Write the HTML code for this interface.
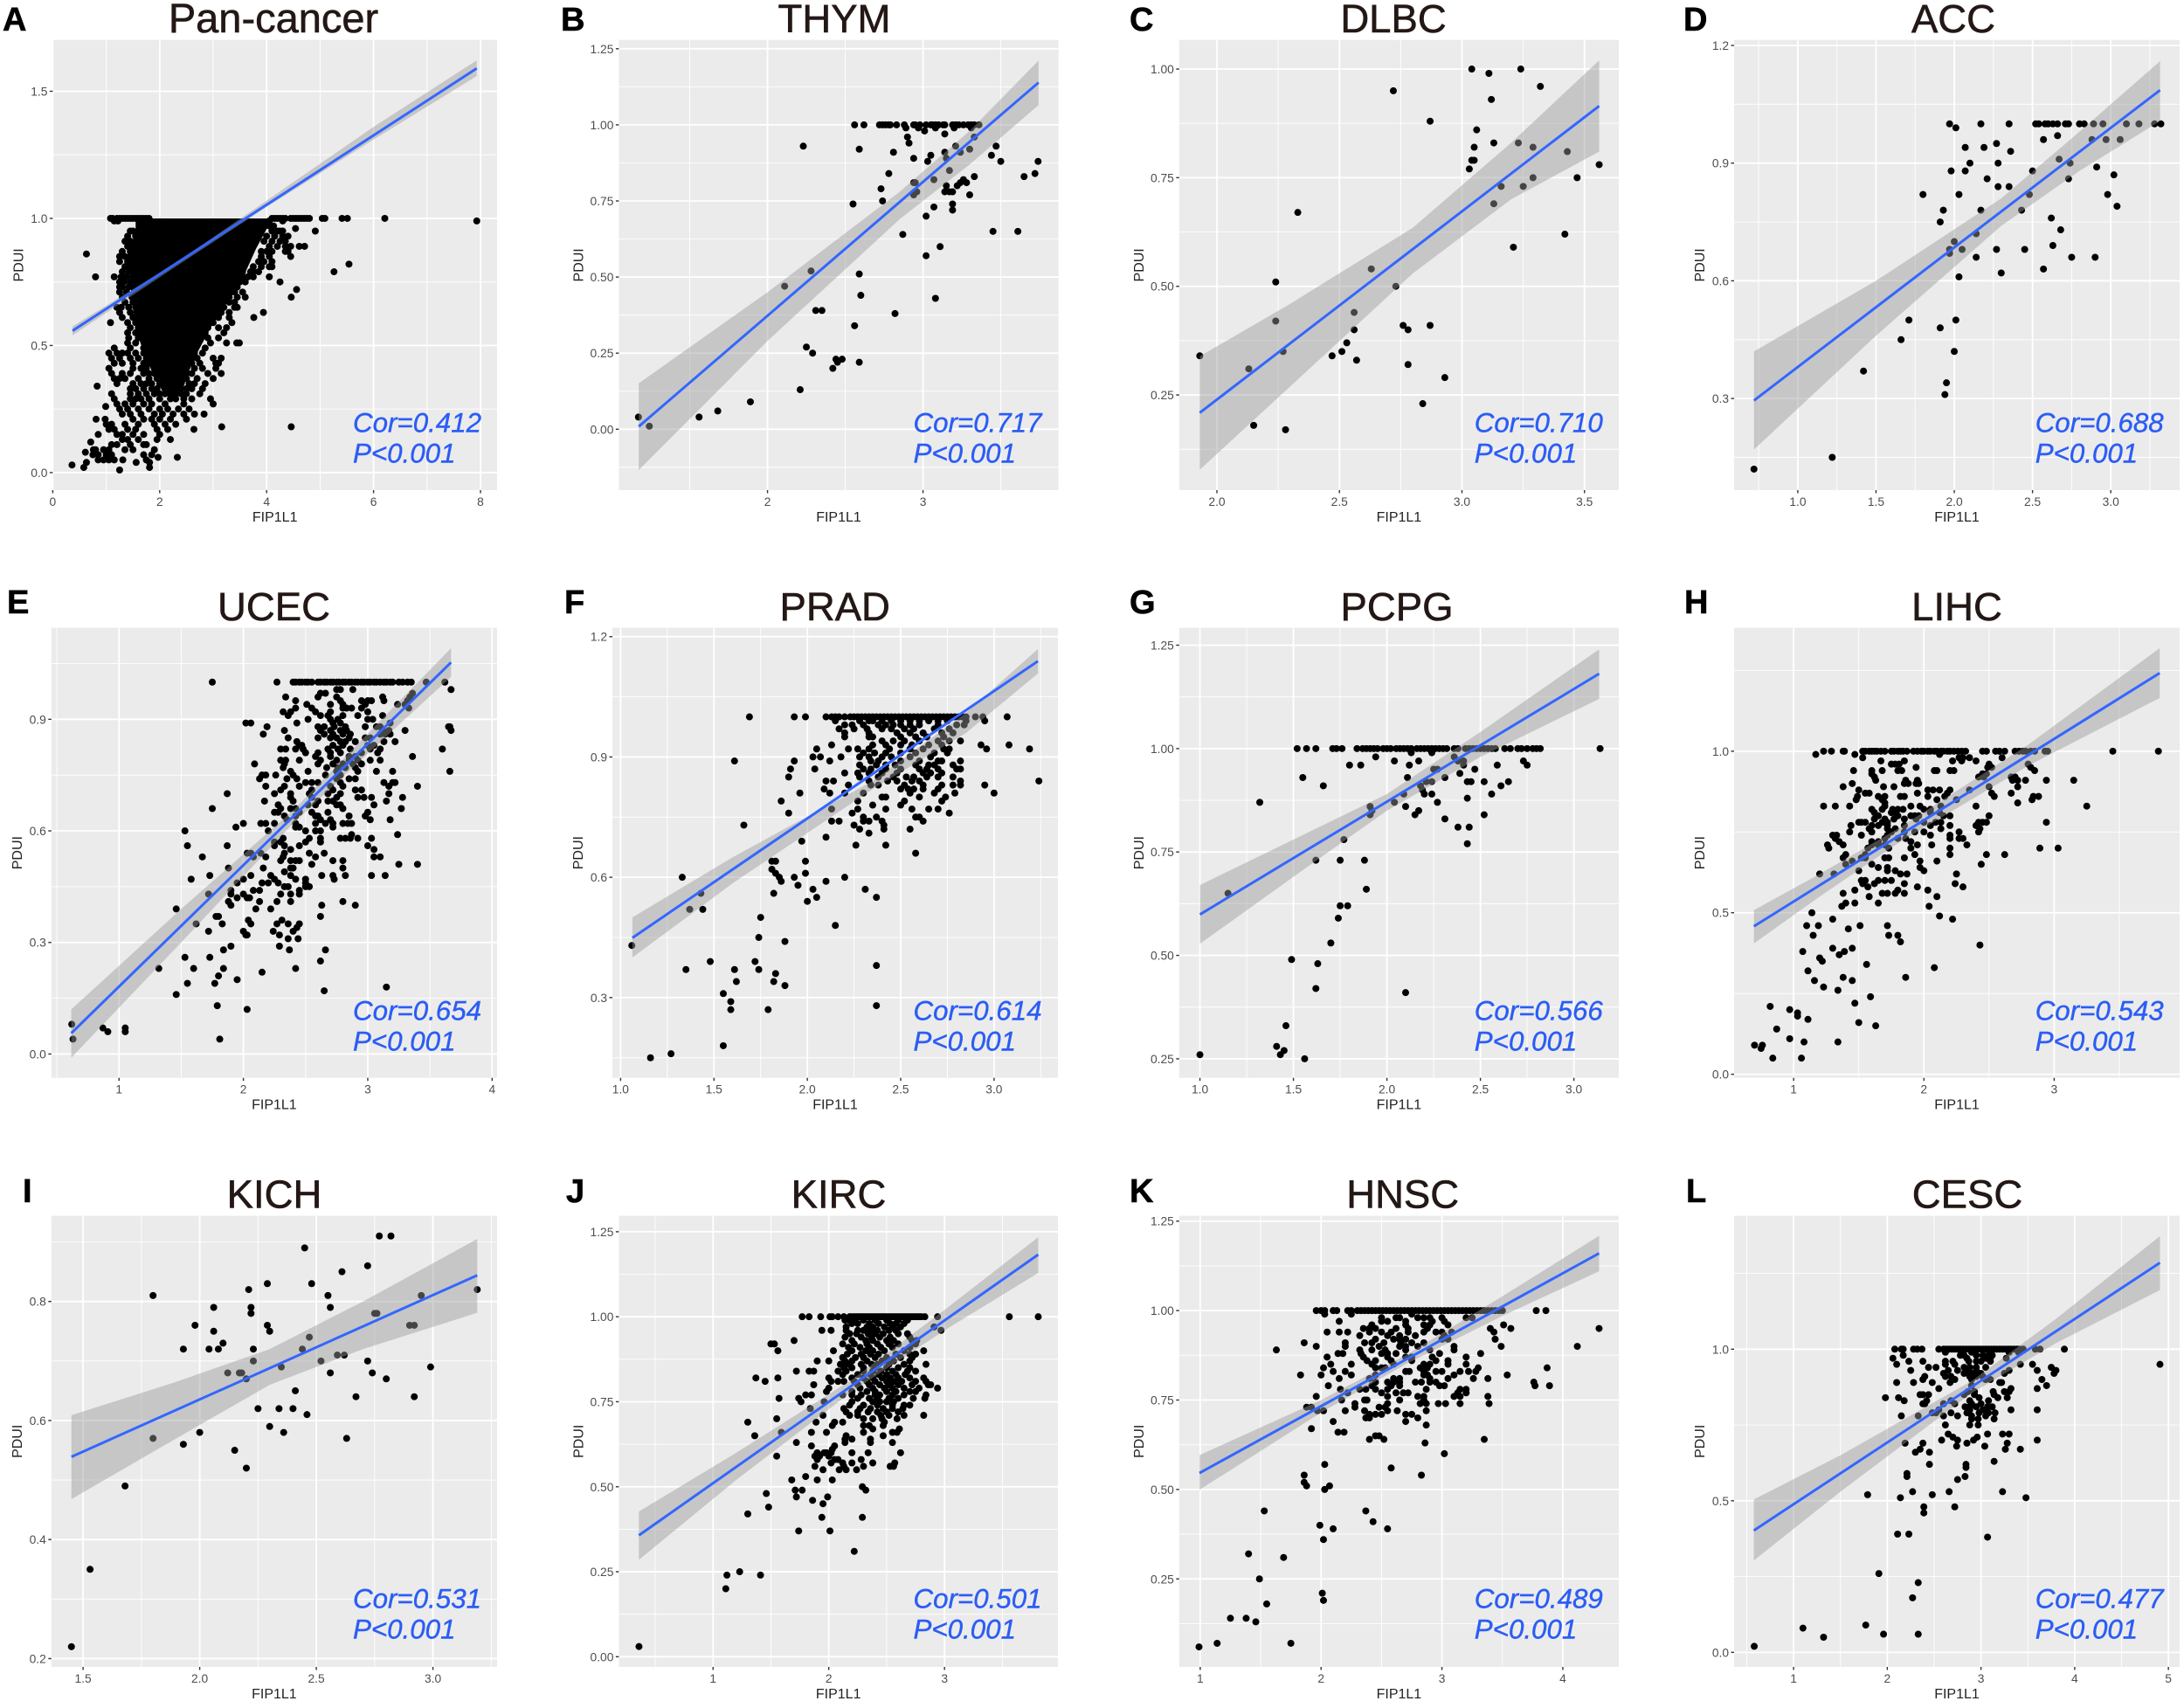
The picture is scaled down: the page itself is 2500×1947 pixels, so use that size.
<!DOCTYPE html>
<html lang="en">
<head>
<meta charset="utf-8">
<title>FIP1L1 vs PDUI correlation panels</title>
<style>
html,body{margin:0;padding:0;background:#fff;width:2500px;height:1947px;overflow:hidden}
#figure{position:absolute;left:0;top:0;display:block}
text{font-family:"Liberation Sans",Arial,sans-serif}
</style>
</head>
<body>
<svg id="figure" width="2500" height="1947" viewBox="0 0 2500 1947" xmlns="http://www.w3.org/2000/svg"></svg>
<script>
// ---------- chart values ----------
const panelLetters = ['A','B','C','D','E','F','G','H','I','J','K','L'];
const panelTitles = ['Pan-cancer','THYM','DLBC','ACC','UCEC','PRAD','PCPG','LIHC','KICH','KIRC','HNSC','CESC'];
const corValues = ['0.412','0.717','0.710','0.688','0.654','0.614','0.566','0.543','0.531','0.501','0.489','0.477'];
const xTickLabels = [
 ['0','2','4','6','8'],['2','3'],['2.0','2.5','3.0','3.5'],['1.0','1.5','2.0','2.5','3.0'],
 ['1','2','3','4'],['1.0','1.5','2.0','2.5','3.0'],['1.0','1.5','2.0','2.5','3.0'],['1','2','3'],
 ['1.5','2.0','2.5','3.0'],['1','2','3'],['1','2','3','4'],['1','2','3','4','5']];
const yTickLabels = [
 ['0.0','0.5','1.0','1.5'],['0.00','0.25','0.50','0.75','1.00','1.25'],['0.25','0.50','0.75','1.00'],['0.3','0.6','0.9','1.2'],
 ['0.0','0.3','0.6','0.9'],['0.3','0.6','0.9','1.2'],['0.25','0.50','0.75','1.00','1.25'],['0.0','0.5','1.0'],
 ['0.2','0.4','0.6','0.8'],['0.00','0.25','0.50','0.75','1.00','1.25'],['0.25','0.50','0.75','1.00','1.25'],['0.0','0.5','1.0']];
const xDomains = [[0,8.31],[1.044,3.871],[1.846,3.64],[.593,3.44],[.456,4.04],[.956,3.342],[.889,3.24],[.543,3.963],[1.364,3.275],[.186,3.98],[.826,4.463],[.365,5.12]];
const yDomains = [[-.069,1.702],[-.2,1.279],[.031,1.067],[.0665,1.214],[-.064,1.146],[.1,1.222],[.204,1.292],[-.011,1.382],[.186,.944],[-.03,1.297],[.004,1.265],[-.048,1.44]];
// Fitted line: x0, y0, x1, y1
const fitLines = [[.37,.558,7.93,1.59],[1.172,.009,3.743,1.139],[1.93,.209,3.56,.915],[.72,.295,3.315,1.086],[.616,.056,3.67,1.053],[1.063,.449,3.235,1.139],[1.0,.599,3.135,1.181],[.695,.458,3.81,1.242],[1.45,.539,3.19,.844],[.359,.357,3.81,1.183],[.994,.546,4.3,1.16],[.575,.402,4.91,1.285]];
// Confidence ribbon: each entry is x, lower, upper
const ribbons = [
 [[.37,.54,.575],[2.3,.81,.825],[4,1.045,1.07],[6,1.31,1.36],[7.93,1.56,1.622]],
 [[1.172,-.134,.151],[2,.29,.45],[2.85,.69,.78],[3.3,.87,.98],[3.743,1.065,1.211]],
 [[1.93,.078,.339],[2.3,.27,.46],[2.8,.53,.635],[3.2,.70,.83],[3.56,.81,1.02]],
 [[.72,.17,.42],[1.5,.46,.60],[2.3,.74,.81],[2.8,.88,.98],[3.315,1.007,1.16]],
 [[.616,-.01,.12],[1.5,.30,.39],[2.4,.62,.655],[3.2,.87,.93],[3.67,1.014,1.091]],
 [[1.063,.40,.50],[1.6,.585,.65],[2.35,.82,.84],[2.85,.96,1.01],[3.235,1.108,1.169]],
 [[1.0,.528,.67],[1.5,.69,.78],[2.0,.85,.89],[2.5,.98,1.04],[3.135,1.12,1.24]],
 [[.695,.405,.508],[1.2,.55,.62],[1.8,.715,.76],[2.8,.955,1.02],[3.81,1.165,1.319]],
 [[1.45,.468,.609],[1.9,.57,.665],[2.3,.66,.72],[2.7,.72,.80],[3.19,.781,.905]],
 [[.359,.285,.427],[1.2,.52,.60],[2.2,.78,.815],[3,.96,1.02],[3.81,1.129,1.234]],
 [[.994,.499,.596],[2,.715,.75],[2.7,.85,.875],[3.5,.985,1.04],[4.3,1.11,1.209]],
 [[.575,.303,.504],[1.5,.53,.65],[2.9,.855,.895],[3.8,1.02,1.10],[4.91,1.195,1.373]]];

// Points are grouped by PDUI level: [pdui, fip1l1, fip1l1, ...]
const panDenseLevels = [1,.95,.88,.74,.65,.57,.47,.40,.34,.30];
const panDenseLow = [1.55,1.55,1.5,1.45,1.5,1.55,1.7,1.85,2.0,2.1];
const panDenseHigh = [4.1,3.98,3.8,3.5,3.2,2.95,2.7,2.55,2.45,2.35];
const panPoints = [
[1,1.08,1.12,1.2,1.25,1.3,1.35,1.4,1.45,1.5,1.55,1.6,1.65,1.7,1.75,1.8,4.1,4.15,4.2,4.25,4.3,4.35,4.45,4.5,4.55,4.6,4.65,4.7,4.75,4.8,5.04,5.09,5.41,5.51,6.21],
[.99,1.15,1.22,1.75,1.8,4.05,4.3,7.93],[.97,1.65,1.72,4.13,4.05],[.96,4.54],[.95,1.45,1.5,1.6,4.25,4.1,4.2,4.3,4.91],[.93,1.55,1.4,4.3,4.15,4,4.4],[.91,1.45,1.35,1.55,4.35,4.25,4.1,3.95],
[.89,1.4,1.5,1.6,4.2,4.05,4.35,4.45,4.61,4.71],[.87,1.3,1.45,1.55,4.1,4,3.9,4.35,4.4],[.86,.63],[.85,1.25,1.35,1.45,1.6,4.05,3.9,4.45],[.83,1.25,1.4,1.5,3.85,3.95,4.1],[.82,5.54],[.81,1.35,1.45,1.55,3.75,3.9,4.1,4.05],
[.79,1.3,1.42,1.5,3.7,3.55,3.85,3.75,5.26],[.77,.8,1.15,1.28,1.38,1.5,3.55,3.65,3.75,4.05],[.75,1.25,1.33,1.45,3.5,3.6,4.25],[.73,1.25,1.3,1.42,3.45,3.4],[.72,4.56],[.71,1.25,1.38,3.4,3.55],[.69,1.3,1.48,3.3,3.45,3.6,4.46],
[.67,1.35,1.5,3.3,3.4],[.65,1.2,1.28,1.42,1.55,3.2,3.4,3.45],[.63,1.25,1.45,3.15,3.3,3.94],[.61,1.3,1.5,1.6,3.1,3.3,3.76],[.59,1.08,1.4,1.55,3,3.35],[.57,1.45,1.6,2.9,3.1,3.25],[.55,1.4,1.55,2.85,3.2],[.53,1.42,1.6,2.9,3.1],
[.51,1.4,1.55,2.7,2.95,3.25,3.44,3.49],[.49,1.15,1.45,1.7,2.65,2.85],[.47,1.05,1.2,1.3,1.4,1.55,1.7,2.65,2.8],[.45,1.1,1.25,1.45,1.6,1.75,2.6,2.7,3,3.15],[.43,1.15,1.3,1.5,1.7,1.8,2.6,2.75,3.05,3.1],[.41,1.05,1.5,1.65,1.75,2.65,2.8,3.05],
[.39,1.1,1.3,1.45,1.7,1.8,1.9,2.5,2.6,2.9,3.15],[.37,1.15,1.25,1.35,1.6,1.8,1.95,2.05,2.25,2.5,2.7,3],[.35,1.2,1.5,1.65,1.75,1.85,2,2.4,2.55,2.65,2.85],[.34,.83],[.33,1.45,1.55,1.7,1.85,1.95,2.15,2.4,2.5,2.6,2.8],[.31,1.1,1.45,1.6,1.75,1.9,2,2.1,2.25,2.4,2.5,2.75],[.29,1.15,1.45,1.55,1.65,1.8,2,2.2,2.3,2.45,2.6,2.95],
[.27,1.2,1.35,1.5,1.7,1.85,2.1,2.45,3],[.26,.99],[.25,1.25,1.4,1.6,1.8,2,2.15,2.35,2.55],[.23,1.3,1.45,1.65,1.9,2.05,2.25,2.45,2.65,2.83],[.21,.81,.98,1.5,1.7,1.85,2,2.2,2.5],[.19,1,1.1,1.35,1.6,1.9,2.1,2.3],[.18,3.16,4.46],[.17,1.05,1.15,1.4,1.55,1.95,2.15,2.64],
[.15,.85,1.2,1.3,1.5,1.7,2],[.13,1.3,1.4,1.6,1.95,2.2],[.12,.71],[.11,1.1,1.2,1.45,1.7,1.75],[.09,.76,.8,.95,1.05,1.35,1.5,1.9],[.08,.61],[.07,.75,.85,1,1.1,1.7,1.85],[.06,2.33,1.97],[.05,.85,.95,1.05,1.15,1.31,1.75],[.04,.63,1.56,1.81],[.03,.36],[.02,.58,1.81],[.01,1.25]];
const thymPoints = [
[1,2.56,2.62,2.72,2.74,2.76,2.78,2.79,2.83,2.88,2.94,2.95,2.98,3.02,3.05,3.06,3.08,3.1,3.13,3.14,3.19,3.21,3.23,3.26,3.29,3.31,3.33,3.36],
[.99,2.89,2.97,3.08,3.2,3.31],[.98,3.01],[.97,3.14],[.96,2.9,3.33],[.94,2.91],[.93,2.23,3.21,3.47],[.92,2.59,3.3],[.91,2.81,3.14,3.24],[.9,3.05,3.44],[.89,2.94,3.15],[.88,3.03,3.5,3.74],[.85,3.17],[.84,2.78,3.72],[.83,3.33,3.65],
[.82,3.07,3.26],[.81,2.94,2.95,3.24,3.28],[.8,3.22,3.15],[.79,2.73],[.78,3.14,3.17,3.19,2.96],[.77,2.94,3.3],[.75,2.74],[.74,2.55,3.19],[.73,3.07],[.72,3.19],[.7,3.02],[.65,3.45,3.61],[.64,2.87],[.6,3.11],[.57,3.02],[.52,2.28],[.51,2.59],[.47,2.11],[.44,2.6],[.43,3.08],[.39,2.31,2.35],[.38,2.82],[.34,2.56],[.27,2.25],[.25,2.29],[.23,2.44,2.48],[.22,2.45,2.59],[.2,2.42],[.13,2.21],[.09,1.89],[.06,1.68],[.04,1.56,1.17],[.01,1.24]];
const dlbcPoints = [
[1,3.04,3.24],[.99,3.11],[.96,3.32],[.95,2.72],[.93,3.12],[.88,2.87],[.86,3.06],[.83,3.13,3.23],[.82,3.05,3.29],[.81,3.43],[.79,3.04,3.05],[.78,3.56],[.77,3.03],[.75,3.29,3.47],[.73,3.16,3.25],[.69,3.13],[.67,2.33],[.62,3.42],[.59,3.21],[.54,2.63],[.51,2.24],[.5,2.73],[.44,2.56],[.42,2.24],[.41,2.76,2.87],[.4,2.56,2.78],[.37,2.53],[.35,2.27,2.51],[.34,1.93,2.47],[.33,2.57],[.32,2.78],[.31,2.13],[.29,2.93],[.23,2.84],[.18,2.15],[.17,2.28]];
const accPoints = [
[1,1.97,2.17,2.35,2.52,2.54,2.58,2.6,2.63,2.66,2.71,2.73,2.8,2.83,2.89,2.95,3.1,3.18,3.28,3.32],[.99,2.01],[.97,2.66],[.96,2.57,2.88,2.97,3.06],[.95,2.27],[.94,2.07,2.19],[.93,2.36],[.91,2.67],[.9,2.1,2.28,2.74],[.89,2.91],[.88,1.98,2.07,2.5],[.87,3.02],[.86,2.21,2.73],[.84,2.28,2.35],[.82,1.8,2.03,2.48,2.98],[.79,3.04],[.78,1.93,2.17,2.43],[.76,2.62],[.75,1.91],[.73,2.68],[.72,2.14],[.7,2],[.69,2.63],[.68,1.97,2.05,2.27,2.45],[.67,1.97],[.66,2.14,2.75,2.9],[.63,2.57],[.62,2.3],[.61,2.03],[.5,1.71,2.01],[.48,1.91],[.45,1.66],[.42,2],[.37,1.42],[.34,1.95],[.31,1.94],[.15,1.22],[.12,.72]];
const ucecPoints = [
[1,1.75,2.27,2.4,2.42,2.45,2.47,2.5,2.52,2.55,2.6,2.62,2.65,2.67,2.7,2.72,2.75,2.77,2.8,2.82,2.85,2.87,2.9,2.92,2.95,2.97,3,3.02,3.05,3.07,3.1,3.13,3.15,3.18,3.2,3.25,3.28,3.32,3.35,3.47,3.62],
[.98,3.67,2.75,2.88,2.78],[.97,2.66,2.62,3.36],[.96,2.34,2.6,2.75,3.12,3.34],[.95,2.42,2.78,2.95,3,3.03,3.13,3.32],[.94,2.51,2.7,2.8,2.98,3.24,3.3],[.93,2.42,2.55,2.8,2.83,2.87,2.95,3.33],[.92,2.32,2.38,2.58,2.7,3],[.91,2.36,2.62,2.68,2.8,2.92,3.12],[.9,2.52,2.7,2.76,3,3.04],[.89,2.02,2.06,2.43,2.72,2.78,3.18],
[.88,2.19,2.6,2.65,2.73,2.82,2.98,3.07,3.65,3.1,3.66],[.87,2.33,2.62,2.7,2.78,2.83,3.12,3.17,3.3,3.67],[.86,2.16,2.65,2.72,2.8,2.86,3.1,3.14,3.18],[.85,2.36,2.6,2.7,2.75,2.85,2.98,3.02],[.84,2.43,2.78,2.82,2.9,3.13,3.22],[.83,2.45,2.47,2.72,2.8,3,3.05],[.82,2.3,2.34,2.42,2.48,2.68,2.76,2.86,3.02,3.1,3.6],[.81,2.5,2.6,2.7,2.78,2.95,3.08],[.8,2.58,2.7,2.85,2.9,3.36],
[.79,2.3,2.34,2.45,2.62,2.75,2.85,2.92,3.02,3.1],[.78,2.09,2.33,2.6,2.72,2.8,2.88,2.95],[.77,2.32,2.67,2.76,2.82,2.9],[.76,2.38,2.52,2.75,2.92,3.07,3.2,3.66],[.75,2.15,2.18,2.26,2.4,2.66,2.78],[.74,2.13,2.35,2.43,2.75,2.85,2.9],[.73,2.5,2.55,2.6,2.78,3.13,3.2,3.22],[.72,2.18,2.33,2.45,2.7,2.8,3.17,3.4],[.71,2.3,2.55,2.72,2.9,2.95],[.7,1.87,2.25,2.38,2.53,2.68,2.78,3.17],
[.69,2.38,2.55,2.75,2.92,2.97,3.03,3.28],[.68,2.17,2.4,2.6,2.68,2.72,3.15],[.67,2.28,2.52,2.58,2.75,2.78,3.05],[.66,1.75,2.3,2.38,2.42,2.8,3.27],[.65,2.25,2.28,2.45,2.55,2.68,3],[.64,2.33,2.42,2.58,2.6,2.85,2.98],[.63,2.35,2.62,2.7,3.02,3.18],[.62,2,2.14,2.18,2.25,2.42,2.58,2.66,2.72,2.8,2.84,2.87],[.61,1.94,2.42,2.45,2.72],[.6,1.53,2.2,2.5,2.58,2.62],[.59,2.87,3.24],
[.58,2.32,2.53,2.62,2.78,2.82,2.86,2.92,3.03],[.57,2.25,2.3,2.5,2.62],[.56,1.55,1.87,2.25,2.33,2.45,3],[.55,2.38,3.05],[.54,2.03,2.06,2.14,2.33,2.53,2.65],[.53,1.67,2.08,2.18,2.32,2.58,3.05,3.1],[.52,2.3,2.38,2.42,2.45,2.72,2.8],[.51,2.55,3.25,3.4],[.5,1.88,2.16,2.38,2.4,2.8],[.49,2.33],[.48,1.73,2.06,2.22,2.38,2.63,2.72,2.82,3.03,3.14],[.47,1.58,2,2.25,2.42,2.5,2.73],[.46,1.95,2.15,2.2,2.28,2.5],
[.45,2.33,2.36,2.5,2.53],[.44,1.9,2.13,2.08,2.45],[.43,1.72,1.9,2,2.3,2.38,2.45],[.42,1.95,2.03,2.05],[.41,1.88,2.13,2.27,2.38,2.8],[.4,1.9,2.63,2.9],[.39,1.46,2.1,2.22],[.37,1.78,1.8,2.62],[.36,2.04,2.31],[.35,1.62,1.83,2.06,2.27,2.36,2.45],[.34,2.43],[.33,1.72,2,2.24,2.4],[.32,2.02,2.03,2.29],[.31,2.36,2.44],[.29,1.9,2.29],[.28,1.84,2.37,2.66],[.26,1.53,1.73],[.25,2.62],[.23,1.32,1.6,1.84,2.42],[.22,2.15],[.21,1.8],[.2,1.95],[.19,1.55,1.77],[.18,3.15],[.17,2.65],[.16,1.46],[.13,1.79],[.12,2.03],[.08,.62],[.07,.87,1.05],[.06,.91,1.05],[.04,.63,1.81]];
const pradPoints = [
[1,1.69,1.93,1.99,2.1,2.13,2.15,2.17,2.2,2.23,2.25,2.27,2.29,2.31,2.33,2.35,2.37,2.39,2.41,2.43,2.45,2.47,2.49,2.51,2.53,2.55,2.57,2.59,2.61,2.63,2.65,2.67,2.69,2.71,2.73,2.75,2.77,2.79,2.81,2.83,2.85,2.9,2.94,3.07],
[.99,2.15,2.28,2.33,2.35,2.4,2.45,2.5,2.55,2.6,2.65,2.7,2.75,2.85,2.95],[.98,2.2,2.24,2.3,2.38,2.42,2.46,2.5,2.55,2.6,2.7,2.8,2.84],[.97,2.17,2.25,2.32,2.4,2.45,2.52,2.57,2.68,2.76],[.96,2.2,2.33,2.48,2.55,2.62,2.72,2.78],[.95,2.2,2.33,2.35,2.5,2.58,2.64,2.73],[.94,2.4,2.46,2.52,2.6,2.7,2.76,2.82],[.93,2.13,2.35,2.42,2.5,2.56,2.65,2.72,2.93,3.08],[.92,2.05,2.22,2.27,2.33,2.44,2.55,2.62,2.73,2.76,2.96,3.19],[.91,2.3,2.36,2.42,2.5,2.58,2.68,2.75],[.9,2.03,2.07,2.18,2.28,2.33,2.4,2.45,2.55,2.66],
[.89,1.61,1.93,2.12,2.34,2.38,2.5,2.6,2.7,2.72,2.82],[.88,2.28,2.37,2.42,2.47,2.58,2.65,2.68,2.78],[.87,1.91,2.04,2.3,2.34,2.42,2.5,2.6,2.64,2.7,2.8,2.82],[.86,2.2,2.27,2.33,2.4,2.48,2.62,2.66,2.72],[.85,1.9,2.28,2.38,2.46,2.53,2.57,2.64,2.7,2.78],[.84,2.1,2.14,2.33,2.43,2.48,2.56,2.6,2.82,3.24],[.83,2.22,2.34,2.38,2.52,2.62,2.72,2.78,2.82,2.95],[.82,2.09,2.5,2.54,2.57,2.62,2.7],[.81,1.96,2.12,2.2,2.3,2.55,2.68,2.79,3],[.8,2.4,2.42,2.6,2.74],[.79,1.86,2.27,2.52,2.72],[.78,2.35,2.5],[.77,2.13,2.27,2.42,2.56,2.65,2.7],[.76,1.9,2.24,2.76],[.75,2.3,2.37,2.6,2.58],[.74,2.13,2.17,2.3,2.33,2.4,2.62],[.73,1.66,2.25,2.41],[.72,2.28,2.55,2.41],[.71,2.33],[.7,2.1],[.69,1.97],[.68,2.26,2.42],[.66,2.58],[.64,1.81,1.83,1.99],[.62,1.81],[.61,1.83,1.99],[.6,1.33,1.85,1.93,2.2],[.59,1.86,2.1],[.58,1.95],[.57,2.03,2.31],[.56,1.43,1.82],[.55,2.05,2.37],[.54,2],[.52,1.37,1.44],[.5,1.75],[.48,2.15],[.45,1.74],[.44,1.88],[.43,1.06],[.39,1.48,1.72],[.38,2.37],[.37,1.35,1.61,1.74],[.36,1.83],[.34,1.62,1.82],[.33,1.88],[.31,1.55],[.29,1.59],[.28,2.37],[.27,1.59,1.79],[.18,1.55],[.16,1.27],[.15,1.16]];
const pcpgPoints = [
[1,1.52,1.57,1.62,1.71,1.73,1.76,1.84,1.87,1.89,1.91,1.93,1.95,1.98,2,2.02,2.05,2.07,2.09,2.11,2.13,2.16,2.18,2.2,2.22,2.24,2.26,2.28,2.3,2.32,2.36,2.38,2.42,2.44,2.46,2.48,2.5,2.52,2.54,2.56,2.58,2.63,2.66,2.7,2.72,2.75,2.78,2.8,2.82,3.14],
[.99,2.13,2.24],[.98,1.94,2.36],[.97,2.04,2.17,2.38,2.41,2.73],[.96,1.8,1.86,2.12,2.41,2.59,2.75],[.95,2.25,2.27,2.47],[.94,2.39],[.93,1.55,2.11,2.31],[.92,2.21,2.24,2.43,2.45,2.52,2.65],[.91,1.66,2.18,2.61],[.9,2.19],[.89,2.09,2.2,2.24,2.56],[.88,2.43],[.87,1.32,2.04,2.27],[.86,1.91,2.1],[.85,1.92,2.17],[.84,1.91,2.15,2.52],[.83,2.31],[.81,2.38,2.44],[.78,1.77],[.77,2.43],[.73,1.62,1.75,1.88],[.66,1.89],[.65,1.15],[.62,1.75,1.79],[.59,1.74],[.53,1.7],[.49,1.49],[.48,1.63],[.42,1.62],[.41,2.1],[.33,1.46],[.28,1.41],[.27,1.45],[.26,1,1.43],[.25,1.56]];
const lihcPoints = [
[1,1.23,1.29,1.38,1.39,1.53,1.55,1.58,1.6,1.62,1.64,1.67,1.7,1.75,1.77,1.8,1.82,1.84,1.87,1.92,1.95,1.98,2,2.03,2.05,2.08,2.1,2.13,2.15,2.18,2.2,2.23,2.26,2.29,2.32,2.45,2.48,2.55,2.58,2.62,2.7,2.73,2.76,2.78,2.82,2.85,2.93,2.95,3.45,3.8],
[.99,1.17,1.47,2.12],[.98,1.53,2.3,2.27,2.35,2.6],[.97,1.67,1.85,2.22,2.29,2.4],[.96,1.75,1.78,1.81,2.5,2.8],[.95,1.94,2.52,2.49,2.82],[.94,1.46,1.6,1.68,1.8,1.83,2.08,2.1,2.2,2.23,2.85],[.93,1.6,2.45,2.48],[.92,1.62,2.42,2.46,2.67,2.7],[.91,1.63,1.86,1.95,2.94,2.68,2.72,2.78,3.15],[.9,1.45,1.85,1.88,1.94,1.96],[.89,1.38,1.69,1.77,2.5,2.72],[.88,1.5,2.03,2.07,2.12,2.2,2.35],[.87,1.55,1.58,1.95,2.18,2.52,2.67],[.86,1.49,1.65,1.7,1.82,1.85,2.03,2.16,2.54,2.84,2.88],[.85,1.48,1.68,2.25,2.1,2.83],[.84,1.7,2.72],[.83,1.23,1.32,1.43,1.7,1.9,1.97,2.13,2.4,3.25],[.82,1.6,1.68,1.76,1.8,1.84,2,2.05],[.81,1.62,1.75,1.78,2.05,2.12],[.8,1.65,1.8,1.9,1.93,1.96,2.15,2.2,2.5],[.79,1.62,1.7,1.77,1.85,1.94],[.78,1.5,1.52,1.55,1.68,1.72,2,2.09,2.13,2.45,2.42,2.48,2.94],[.77,1.44,1.6,1.65,1.72,1.85,2.05,2.2,2.4],[.76,1.58,1.72,1.78,2.13,2.43],[.75,1.43,1.6,1.75,1.85,1.93,2,2.27,2.42],[.74,1.3,1.33,1.52,1.72,2.05,2.2],[.73,1.32,1.7,1.8,1.86,2.2,2.27,2.3],[.72,1.35,1.6,1.65,1.9],[.71,1.26,1.38,1.6,1.65,1.7,1.95,2.06,2.33],[.7,1.27,1.57,1.73,1.9,2.2,2.89,3.03],[.68,1.4,1.55,1.93,2.2,2.48,2.62],[.67,1.38,1.52,1.55,1.7,1.73,1.85],[.66,1.45,1.97,2.1],[.65,1.4,1.6,2.44],[.64,1.65,1.97,1.72],[.63,1.5,1.72,1.78,2.0],[.62,1.2,1.31,1.82,1.87,2.25],[.6,1.52,1.55,1.65,1.7,1.75],[.59,1.53,1.62,1.85,2.24],[.58,1.57,1.95,2.3],[.57,1.47,1.8,2.03],[.56,1.38,1.68,1.72,1.78,1.85],[.55,1.58,2.1],[.53,1.4,1.47,1.65],[.52,1.37,2.04],[.5,1.14],[.49,2.12],[.48,1.3,2.22],[.46,1.1,1.19,1.51,1.72],[.45,1.42],[.43,1.15,1.73,1.8],[.41,1.82],[.4,2.43],[.39,1.3,1.45],[.38,1.07,1.39],[.37,1.35],[.36,1.2],[.35,1.22],[.34,1.56],[.33,2.08],[.32,1.11],[.3,1.38,1.86],[.29,1.16,1.45],[.27,1.23],[.26,1.34],[.24,1.59],[.22,1.47],[.21,.82],[.2,.97],[.19,1.03],[.18,1.03],[.17,1.11],[.16,1.5],[.15,1.63],[.14,.87],[.11,.97],[.1,1.08,1.34],[.09,.7,.76],[.08,.75],[.05,.84,1.06]];
const kichPoints = [
[.91,2.77,2.82],[.89,2.45],[.86,2.72],[.85,2.61],[.83,2.29,2.48],[.82,2.21,3.19],[.81,1.8,2.55,2.95],[.79,2.06,2.22,2.56],[.78,2.22,2.75,2.76],[.76,1.98,2.29,2.9,2.92],[.75,2.06,2.3],[.74,2.47],[.73,2.1],[.72,1.93,2.04,2.08,2.23,2.44],[.71,2.59,2.62],[.7,2.23,2.52,2.72],[.69,2.35,2.99],[.68,2.12,2.17,2.18,2.56,2.74],[.67,2.2,2.8],[.65,2.41],[.64,2.67,2.92],[.62,2.25,2.34,2.4],[.61,2.46],[.59,2.3],[.58,2,2.36],[.57,1.8,2.63],[.56,1.93],[.55,2.15],[.52,2.2],[.49,1.68],[.35,1.53],[.22,1.45]];
const kircPoints = [
[1,1.77,1.83,1.93,2.01,2.03,2.08,2.13,2.18,2.2,2.22,2.24,2.26,2.28,2.3,2.32,2.34,2.36,2.38,2.4,2.42,2.44,2.46,2.48,2.5,2.52,2.54,2.56,2.58,2.6,2.62,2.64,2.66,2.68,2.7,2.72,2.74,2.76,2.78,2.8,2.83,2.94,3.56,3.81],
[.99,2.14,2.17,2.22,2.3,2.4,2.5,2.6,2.68],[.98,2.2,2.25,2.35,2.43,2.53,2.58,2.65],[.97,2.15,2.33,2.38,2.48,2.55,2.62,2.91],[.96,2.15,2.25,2.3,2.36,2.42,2.52,2.58,1.94,2.02,2.97],[.95,2.18,2.24,2.34,2.4,2.47,2.6,2.68],[.94,2.14,2.28,2.37,2.44,2.53,2.7],[.93,2.2,2.32,2.38,2.5,2.56,2.72,2.76,1.7],[.92,2.12,2.22,2.33,2.42,2.52,2.6,2.75,1.5,1.53],[.91,2.17,2.27,2.35,2.45,2.55,2.7],[.9,2.04,2.2,2.32,2.38,2.48,2.65,2.82,1.56],[.89,2.16,2.28,2.36,2.43,2.58,2.7,2.75],[.88,2.12,2.23,2.3,2.4,2.5,2.62,2.72],[.87,1.9,2,2.14,2.2,2.33,2.46,2.56,2.7],[.86,2.1,2.17,2.28,2.37,2.42,2.52,2.65,2.84],[.85,2.13,2.2,2.3,2.4,2.5,2.6,2.7],[.84,1.72,1.83,1.87,2.08,2.15,2.3,2.38,2.45,2.55,2.68,2.75],[.83,2.12,2.25,2.36,2.43,2.5,2.58,2.66],[.82,1.37,1.56,2,2.2,2.3,2.38,2.46,2.53,2.6,2.7,2.82],[.81,1.45,2.02,2.08,2.13,2.22,2.33,2.4,2.5,2.56,2.63,2.75,2.84],[.8,1.87,2.25,2.35,2.44,2.52,2.6,2.72,2.86,2.88],[.79,2,2.27,2.38,2.48,2.55,2.65,2.78,2.94],[.78,1.98,2.2,2.33,2.4,2.5,2.58,2.7,2.75],[.77,1.8,1.85,2.12,2.2,2.28,2.4,2.44,2.55,2.65,2.84],[.76,1.57,1.74,2.25,2.35,2.42,2.52,2.6,2.73,2.83],[.75,1.76,1.96,2.2,2.38,2.44,2.5,2.56],[.74,2.18,2.3,2.42,2.55,2.65,2.7],[.73,1.84,2.13,2.27,2.36,2.47,2.55,2.64],[.72,2.15,2.25,2.34,2.42,2.5,2.6],[.71,1.95,2.18,2.25,2.45,2.52,2.65,2.82],[.7,1.55,2.3,2.38,2.46,2.59],[.69,1.3,1.89,2.05,2.12,2.48],[.68,2.03,2.3,2.35,2.47],[.67,2.38,2.61],[.66,1.59,1.85,1.98,2.3,2.55,2.59],[.65,1.36,2.15,2.47],[.64,2.14,2.2,2.36],[.63,1.72,2.14,2.36,2.55],[.62,1.85,2.05],[.61,2.03],[.6,1.9,1.96,1.98,2.02,2.2,2.34,2.62],[.59,1.55,1.88,1.92,2],[.58,1.9,2.05,2.08,2.28],[.57,2.02,2.12,2.2,2.57,2.38],[.56,1.88,2.13,2.3,2.53,2.56],[.55,1.95,2.09,2.15,2.24],[.53,1.8],[.52,1.68,1.9,2.03],[.5,2.29],[.49,1.71,1.77,2.32],[.48,1.46],[.47,1.72,1.99],[.46,1.86],[.45,1.95],[.44,1.48],[.42,1.3],[.41,1.94,2.29],[.37,1.74,2.01],[.31,2.22],[.25,1.23],[.24,1.12,1.41],[.2,1.11],[.03,.36]];
const hnscPoints = [
[1,1.96,2,2.03,2.1,2.13,2.22,2.25,2.3,2.33,2.36,2.39,2.42,2.45,2.48,2.51,2.54,2.57,2.6,2.63,2.66,2.69,2.72,2.75,2.78,2.81,2.84,2.87,2.9,2.93,2.96,2.99,3.02,3.05,3.08,3.11,3.14,3.17,3.2,3.23,3.26,3.29,3.32,3.35,3.38,3.41,3.44,3.47,3.5,3.78,3.86],
[.99,2.03,2.25,2.75],[.98,2.9,3,3.2,3.25,2.5,2.62,2.65,2.8,2.85],[.97,2.15,2.5,2.55,2.7,2.92,3.02],[.96,2.42,2.7,2.85,2.9,3.05,3.51],[.95,2.35,2.4,2.45,2.62,2.72,2.88,3.4,3.57,4.3],[.94,2.05,2.15,2.22,2.4,2.5,2.58,2.72,2.85,2.95,3,3.08,3.43],[.93,2.32,2.55,2.65,2.78,3.02],[.92,2.45,2.6,2.65,2.7,3,3.05,3.44],[.91,1.86,2.2,2.36,2.42,2.52,2.66,2.75,2.85],[.9,1.96,2.2,2.48,2.65,2.7,2.8,3.1,3.49,4.12],[.89,1.63,2.32,2.42,2.53,2.7,2.9,3.1],[.88,2.14,2.18,2.33,2.5,2.55,2.62,2.98,3.32],[.87,2.05,2.35,2.55,2.7,2.75,2.92,3.2],[.86,2.38,2.45,2.58,2.75,2.95,3.05],[.85,2.08,2.25,2.42,2.6,2.85,2.9,3.05,3.2],[.84,2.02,2.45,2.5,2.53,2.82,2.85,2.88,3.3,3.87],[.83,2.1,2.2,2.7,2.73,2.85,2.95,3,3.15,3.22,3.28],[.82,1.83,2,2.25,2.45,2.85,2.88,3.1,3.54],[.81,2.15,2.4,2.6,2.65,2.9,3.05,3.26,3.38],[.8,2.45,2.55,2.6,2.65,2.78,2.83,2.9,2.95,3.76],[.79,2.06,2.42,2.58,2.65,2.98,3.02,3.77,3.89],[.78,2.16,2.32,2.37,2.45,2.55,2.87,3.15,3.2],[.77,2.22,2.5,2.62,2.68,2.72,3.13,3.2],[.76,1.96,2.55,2.8,2.85,3.1,3.15,3.38],[.75,2.17,2.36,2.38,2.65,2.85],[.74,2.28,2.55,2.82,2.87,2.97,3.03,3.15,3.39],[.73,1.88,1.92,2.28,2.48,2.53],[.72,1.97,2.02,2.2,2.36,2.55,2.63,2.87],[.71,2.4,2.45,2.5,2.7,2.75],[.7,2.37,2.4,2.8],[.69,2.1,2.7],[.68,2.87],[.67,1.92],[.66,2.14,2.19],[.65,2.45,2.48],[.64,2.4,2.52,3.35],[.63,2.86],[.6,3.02],[.57,2.03],[.56,2.58],[.54,1.86,2.83],[.52,1.86],[.51,1.88,2.07],[.5,2.03],[.44,1.53,2.37],[.41,2.43],[.4,1.99],[.39,2.1,2.55],[.36,2.02],[.32,1.4],[.31,1.69],[.25,1.49],[.21,2.01],[.19,2.02],[.18,1.55],[.14,1.25,1.38],[.13,1.46],[.07,1.14,1.75],[.06,.99]];
const cescPoints = [
[1,2.08,2.15,2.17,2.28,2.32,2.37,2.55,2.6,2.63,2.66,2.69,2.72,2.75,2.78,2.81,2.84,2.87,2.9,2.93,2.96,2.99,3.02,3.05,3.08,3.11,3.14,3.17,3.2,3.23,3.26,3.29,3.32,3.35,3.38,3.41,3.45,3.58,3.63,3.89],
[.99,2.62,2.9,3.1,3.3,3.4],[.98,2.17,2.78,2.82,2.95,3.02,3.08,3.12],[.97,2.06,2.85,3.05,3.1,3.27],[.96,2.23,2.38,2.62,2.7,2.87,2.95,3.0,3.1],[.95,2.1,2.62,2.72,3.42,3.55,4.91],[.94,2.44,2.52,2.82,2.88,2.95,3.05,3.75],[.93,2.25,2.65,2.75,2.85,2.95,3.3,3.6,3.8],[.92,2.6,2.82,2.9,3,3.25,3.78],[.91,2.4,2.62,2.68,2.88,2.95,3.02],[.9,2.38,2.72,2.9,3.05,3.1,3.65],[.89,2.1,2.28,2.48,2.67,3.2,3.22],[.88,2.9,3.7],[.87,2.55,3.32,3.6],[.86,2.86,2.93,3.13,3.25,3.3],[.85,2.35,2.38,2.44,2.82,2.93,3.14],[.84,1.98,2.12,2.98,3.18,3.28],[.83,2.18,2.42,2.68,2.88,3.08],[.82,2.4,2.38,2.6,2.72,2.9,3],[.81,2.83,2.88,2.95,3.07,3.12],[.8,2.55,2.88,3.02,3.32,3.6],[.79,2.48,2.52,2.68,2.85,2.98,3.08,3.15],[.78,2.15,2.33,2.6,2.75,2.9,3.05],[.77,2.9,2.97,3.14],[.75,2.62,2.88,2.97],[.72,2.65,3.07,3.23,3.3],[.71,2.7,2.96],[.7,2.58,2.75,2.92,3.6],[.69,2.19,2.38,2.85,3.28],[.68,2.74,3.04],[.67,2.35,3.26,3.42],[.66,2.3,2.45],
[.63,3.14],[.62,2.45,2.84],[.61,2.84],[.59,2.21],[.58,2.21,2.83],[.57,2.75],[.53,2.27,2.66,3.23],[.52,1.79,2.48],[.51,2.14,3.48],[.48,2.39,2.72],[.46,2.39],[.39,2.11,2.23],[.38,3.07],[.26,1.91],[.23,2.33],[.18,2.27],[.09,1.77],[.08,1.1],[.06,1.96,2.33],[.05,1.32],[.02,.58]];

// ---------- layout only (not data) ----------
const panelData = [panPoints,thymPoints,dlbcPoints,accPoints,ucecPoints,pradPoints,pcpgPoints,lihcPoints,kichPoints,kircPoints,hnscPoints,cescPoints];
const colLeft = [[60.4,708.4,1349.8,1985],[58.8,701,1349.8,1985],[58.8,708.4,1349.8,1985]];
const colRight = [[569,1211.6,1853,2495],[569,1211,1853,2495],[569,1211,1853,2495]];
const rowTop = [45.7,718.6,1391.6];
const rowBottom = [561,1233.7,1908];
const titleMid = [313,955,1595,2236,313.5,955.7,1599,2240,314,960,1605.7,2252];
const titleBase = [37,710,1382.5];
const letterLeft = [3,642,1293,1927,8,646,1293,1928,26,648,1293,1930];
const letterBase = [35,702,1376];
const noteLeft = [404,1045.5,1687.8,2329.7];
const NS = 'http://www.w3.org/2000/svg';
const svg = document.getElementById('figure');
function make(tag, attrs, parent, txt){
  const el = document.createElementNS(NS, tag);
  for (const k in attrs) el.setAttribute(k, attrs[k]);
  if (txt !== undefined) el.textContent = txt;
  parent.appendChild(el);
  return el;
}
panelTitles.forEach((title, i) => {
  const row = Math.floor(i / 4), col = i % 4;
  const L = colLeft[row][col], R = colRight[row][col], T = rowTop[row], B = rowBottom[row];
  const xd = xDomains[i], yd = yDomains[i];
  const sx = v => L + (v - xd[0]) / (xd[1] - xd[0]) * (R - L);
  const sy = v => B - (v - yd[0]) / (yd[1] - yd[0]) * (B - T);
  const key = title.toLowerCase();
  const g = make('g', {}, svg);
  
  

  const letter = make('text', {x:letterLeft[i], y:letterBase[row], 'font-size':38, 'font-weight':'bold', fill:'#000', stroke:'#000', 'stroke-width':.6}, g, panelLetters[i]);
  
  
  const head = make('text', {x:titleMid[i], y:titleBase[row], 'font-size':i === 0 ? 47 : 45.5, 'text-anchor':'middle', fill:'#231815', stroke:'#231815', 'stroke-width':.6}, g, title);
  
  
  const bg = make('rect', {x:L, y:T, width:R-L, height:B-T, fill:'#EBEBEB'}, g);
  
  

  const clipId = 'clip-' + i;
  const clip = make('clipPath', {id:clipId}, g);
  make('rect', {x:L, y:T, width:R-L, height:B-T}, clip);
  const plot = make('g', {'clip-path':'url(#' + clipId + ')'}, g);
  
  

  const xt = xTickLabels[i].map(parseFloat), yt = yTickLabels[i].map(parseFloat);
  const minorLines = (ticks, lo, hi, fn) => {
    const step = ticks[1] - ticks[0];
    for (let k = -6; k < ticks.length + 6; k++) {
      const v = ticks[0] + (k + .5) * step;
      if (v > lo && v < hi) fn(v);
    }
  };
  minorLines(xt, xd[0], xd[1], v => {
    const ln = make('line', {x1:sx(v), x2:sx(v), y1:T, y2:B, stroke:'#fff', 'stroke-width':.9}, plot);
    
    
  });
  minorLines(yt, yd[0], yd[1], v => {
    const ln = make('line', {x1:L, x2:R, y1:sy(v), y2:sy(v), stroke:'#fff', 'stroke-width':.9}, plot);
    
    
  });
  xt.forEach(v => {
    const ln = make('line', {x1:sx(v), x2:sx(v), y1:T, y2:B, stroke:'#fff', 'stroke-width':1.8}, plot);
    
    
  });
  yt.forEach(v => {
    const ln = make('line', {x1:L, x2:R, y1:sy(v), y2:sy(v), stroke:'#fff', 'stroke-width':1.8}, plot);
    
    
  });

  if (i === 0) {
    const left = panDenseLevels.map((lv, k) => sx(panDenseLow[k]) + ',' + sy(lv));
    const right = panDenseLevels.map((lv, k) => sx(panDenseHigh[k]) + ',' + sy(lv)).reverse();
    const cloud = make('polygon', {points:left.concat(right).join(' '), fill:'#000'}, plot);
    
    
  }
  const dots = make('g', {fill:'#000'}, plot);
  
  
  panelData[i].forEach(levelRow => {
    levelRow.slice(1).forEach(xv => {
      const dot = make('circle', {cx:sx(xv), cy:sy(levelRow[0]), r:4}, dots);
      
      
    });
  });

  const rb = ribbons[i];
  const up = rb.map(p => sx(p[0]) + ',' + sy(p[2]));
  const dn = rb.map(p => sx(p[0]) + ',' + sy(p[1])).reverse();
  const band = make('polygon', {points:up.concat(dn).join(' '), fill:'#999', 'fill-opacity':.45}, plot);
  
  
  const f = fitLines[i];
  const fit = make('line', {x1:sx(f[0]), y1:sy(f[1]), x2:sx(f[2]), y2:sy(f[3]), stroke:'#3366FF', 'stroke-width':3}, plot);
  
  

  xTickLabels[i].forEach((lab, k) => {
    const px = sx(xt[k]);
    const tk = make('line', {x1:px, x2:px, y1:B, y2:B+3.5, stroke:'#333', 'stroke-width':1.4}, g);
    
    
    const tl = make('text', {x:px, y:B+18, 'font-size':13.8, 'text-anchor':'middle', fill:'#4D4D4D'}, g, lab);
    
    
  });
  yTickLabels[i].forEach((lab, k) => {
    const py = sy(yt[k]);
    const tk = make('line', {x1:L-3.5, x2:L, y1:py, y2:py, stroke:'#333', 'stroke-width':1.4}, g);
    
    
    const tl = make('text', {x:L-6, y:py+5, 'font-size':13.8, 'text-anchor':'end', fill:'#4D4D4D'}, g, lab);
    
    
  });
  const xTitle = make('text', {x:(L+R)/2, y:B+36, 'font-size':16, 'text-anchor':'middle', fill:'#222'}, g, 'FIP1L1');
  
  
  const tx = L - (yTickLabels[i][0].length > 3 ? 41 : 34), ty = (T+B)/2;
  const yTitle = make('text', {x:tx, y:ty, 'font-size':16, 'text-anchor':'middle', fill:'#222', transform:'rotate(-90 ' + tx + ' ' + ty + ')'}, g, 'PDUI');
  
  

  const n1 = make('text', {x:noteLeft[col], y:T+449, 'font-size':31.3, 'font-style':'italic', fill:'#2B5DF5', stroke:'#2B5DF5', 'stroke-width':.4}, g, 'Cor=' + corValues[i]);
  
  
  const n2 = make('text', {x:noteLeft[col], y:T+484, 'font-size':31.3, 'font-style':'italic', fill:'#2B5DF5', stroke:'#2B5DF5', 'stroke-width':.4}, g, 'P<0.001');
  
  
});
</script>
</body>
</html>
